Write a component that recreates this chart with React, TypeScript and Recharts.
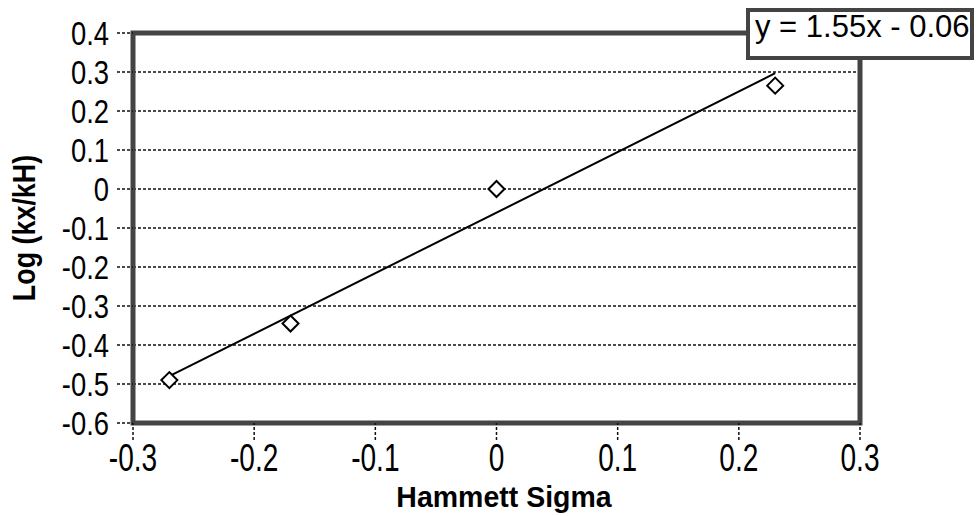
import { ScatterChart, Scatter, XAxis, YAxis, CartesianGrid, ReferenceArea } from 'recharts';

const sigma = [-0.27, -0.17, 0, 0.23];
const logRatio = [-0.49, -0.345, 0, 0.265];

const fitX = [-0.27, 0.23];
const fitY = [-0.48, 0.297];

const xTicks = [-0.3, -0.2, -0.1, 0, 0.1, 0.2, 0.3];
const yTicks = [-0.6, -0.5, -0.4, -0.3, -0.2, -0.1, 0, 0.1, 0.2, 0.3, 0.4];

const points = sigma.map((x, i) => ({ x, y: logRatio[i] }));
const fit = fitX.map((x, i) => ({ x, y: fitY[i] }));

const FONT = '"Liberation Sans", Arial, sans-serif';

const fmt = (v: number) => (Math.abs(v) < 1e-9 ? '0' : String(Math.round(v * 10) / 10));

const Diamond = (props: any) => {
    const { cx, cy } = props;
    const r = 8;
    return (
        <path
            d={`M${cx},${cy - r} L${cx + r},${cy} L${cx},${cy + r} L${cx - r},${cy} Z`}
            fill="#fff"
            stroke="#000"
            strokeWidth={2}
        />
    );
};

// narrow-looking tick labels: squeeze Liberation Sans horizontally
const XTick = (props: any) => {
    const { x, y, payload } = props;
    return (
        <text
            transform={`translate(${x},${y + 28}) scale(0.72,1)`}
            textAnchor="middle"
            fontFamily={FONT}
            fontSize={39}
            fill="#000"
        >
            {fmt(payload.value)}
        </text>
    );
};

const YTick = (props: any) => {
    const { x, y, payload } = props;
    return (
        <text
            transform={`translate(${x},${y + 12}) scale(0.83,1)`}
            textAnchor="end"
            fontFamily={FONT}
            fontSize={33}
            fill="#000"
        >
            {fmt(payload.value)}
        </text>
    );
};

const App = () => {
    return (
        <div style={{ position: 'absolute', left: 0, top: 0, width: 978, height: 516, background: '#fff' }}>
            <ScatterChart width={978} height={516} margin={{ top: 33, right: 118, bottom: 0, left: 0 }}>
                <CartesianGrid vertical={false} stroke="#111" strokeDasharray="3 2" strokeWidth={1.5} />
                <XAxis
                    type="number"
                    dataKey="x"
                    domain={[-0.3, 0.3]}
                    ticks={xTicks}
                    interval={0}
                    height={93}
                    axisLine={false}
                    tickSize={17}
                    tickMargin={3}
                    tickLine={{ stroke: '#111', strokeDasharray: '3 2', strokeWidth: 1.5 }}
                    tick={<XTick />}
                    label={{
                        content: () => (
                            <text
                                transform="translate(504,507) scale(0.95,1)"
                                textAnchor="middle"
                                fontFamily={FONT}
                                fontWeight="bold"
                                fontSize={30}
                                fill="#000"
                            >
                                Hammett Sigma
                            </text>
                        ),
                    }}
                />
                <YAxis
                    type="number"
                    dataKey="y"
                    domain={[-0.6, 0.4]}
                    ticks={yTicks}
                    interval={0}
                    width={133}
                    axisLine={false}
                    tickSize={16}
                    tickMargin={8}
                    tickLine={{ stroke: '#111', strokeDasharray: '3 2', strokeWidth: 1.5 }}
                    tick={<YTick />}
                    label={{
                        content: () => (
                            <text
                                transform="translate(35,228) rotate(-90) scale(0.84,1)"
                                textAnchor="middle"
                                fontFamily={FONT}
                                fontWeight="bold"
                                fontSize={32}
                                fill="#000"
                            >
                                Log (kx/kH)
                            </text>
                        ),
                    }}
                />
                <ReferenceArea
                    x1={-0.3}
                    x2={0.3}
                    y1={-0.6}
                    y2={0.4}
                    fill="none"
                    fillOpacity={0}
                    stroke="#444"
                    strokeWidth={5}
                    ifOverflow="visible"
                />
                <Scatter
                    data={fit}
                    line={{ stroke: '#000', strokeWidth: 2 }}
                    shape={() => <g />}
                    isAnimationActive={false}
                />
                <Scatter data={points} shape={<Diamond />} isAnimationActive={false} />
            </ScatterChart>
            <svg width={978} height={516} style={{ position: 'absolute', left: 0, top: 0, pointerEvents: 'none' }}>
                <rect x={748} y={10} width={224} height={48} fill="#fff" stroke="#444" strokeWidth={4} />
                <text x={755} y={37} fontFamily={FONT} fontSize={31} fill="#000">
                    y = 1.55x - 0.06
                </text>
            </svg>
        </div>
    );
};

export default App;
